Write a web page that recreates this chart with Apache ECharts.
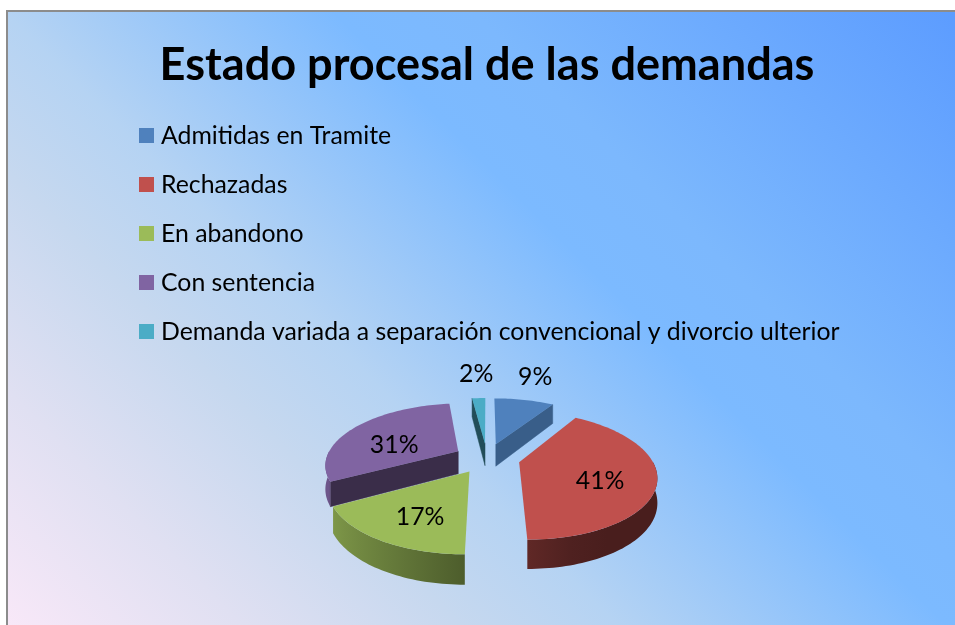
<!DOCTYPE html>
<html><head><meta charset="utf-8">
<script src="https://cdn.jsdelivr.net/npm/echarts@6/dist/echarts.min.js"></script>
<style>html,body{margin:0;padding:0;background:#fff}#c{width:955px;height:625px}</style>
</head><body><div id="c"></div>
<script>
// ---- data ----
const titleText = 'Estado procesal de las demandas';
const categories = [
  'Admitidas en Tramite',
  'Rechazadas',
  'En abandono',
  'Con sentencia',
  'Demanda variada a separación convencional y divorcio ulterior'
];
const values = [9, 41, 17, 31, 2];
const percentLabels = ['9%', '41%', '17%', '31%', '2%'];
const colors = ['#4f81bd', '#c0504d', '#9bbb59', '#8064a2', '#4bacc6'];

// ---- fonts sized to the reference widths ----
function fitSize(text, weight, target) {
  const c = document.createElement('canvas').getContext('2d');
  c.font = weight + ' 100px Lato';
  return 100 * target / c.measureText(text).width;
}
const titleSize = fitSize(titleText, 'bold', 655);
const legendSize = fitSize(categories[4], 'normal', 679);

// ---- 3D exploded pie geometry (layout only) ----
const G = { cx: 487, cy: 458, rx: 132, a: 60, p: 0.2, h: 23, e: 0.25 };
const total = values.reduce((s, v) => s + v, 0);
const starts = []; { let acc = 0; values.forEach(v => { starts.push(acc); acc += v; }); }
const D = Math.PI / 180;
function proj(u, w, down) {
  const f = 1 / (1 + G.p * w);
  return [G.cx + G.rx * u * f, G.cy - G.a * w * f + (down || 0) * f];
}
function shade(hex, k) {
  const n = parseInt(hex.slice(1), 16);
  const r = Math.min(255, Math.round(((n >> 16) & 255) * k));
  const g = Math.min(255, Math.round(((n >> 8) & 255) * k));
  const b = Math.min(255, Math.round((n & 255) * k));
  return 'rgb(' + r + ',' + g + ',' + b + ')';
}
function wallK(t) { return Math.max(0.38, Math.min(1, 0.5 + 0.35 * (-Math.sin(t)))); }

function renderSlice(i) {
  return function (params, api) {
    const v = api.value(0);
    const t0 = starts[i] / total * 2 * Math.PI;
    const t1 = (starts[i] + v) / total * 2 * Math.PI;
    const bis = (t0 + t1) / 2;
    const ou = G.e * Math.sin(bis), ow = G.e * Math.cos(bis);
    const pt = (r, t, down) => proj(ou + r * Math.sin(t), ow + r * Math.cos(t), down);
    const children = [];
    // radial cut faces
    const cut = (t, sign) => {
      const nx = sign * Math.cos(t), nz = -sign * Math.sin(t);
      if (nz >= -1e-9) return;
      const k = 0.45 + Math.max(0, nx - 0.5) * 0.8;
      children.push({
        type: 'polygon',
        shape: { points: [pt(0, t, 0), pt(1, t, 0), pt(1, t, G.h), pt(0, t, G.h)] },
        style: { fill: shade(colors[i], k), stroke: shade(colors[i], k), lineWidth: 0.5 }
      });
    };
    cut(t0, -1);
    cut(t1, 1);
    // outer wall (front half)
    const w0 = Math.max(t0, Math.PI / 2), w1 = Math.min(t1, 1.5 * Math.PI);
    if (w1 > w0) {
      const m = Math.max(2, Math.ceil((w1 - w0) / (D * 1.5)));
      const top = [], bot = [];
      for (let k = 0; k <= m; k++) {
        const t = w0 + (w1 - w0) * k / m;
        top.push(pt(1, t, 0)); bot.push(pt(1, t, G.h));
      }
      const x0 = top[0][0], xm = top[m][0];
      const stops = [];
      const S = 6;
      for (let s = 0; s <= S; s++) {
        const k = Math.round(m * s / S);
        const t = w0 + (w1 - w0) * k / m;
        const off = Math.abs(xm - x0) < 1e-6 ? s / S : (top[k][0] - x0) / (xm - x0);
        stops.push({ offset: Math.max(0, Math.min(1, off)), color: shade(colors[i], wallK(t)) });
      }
      stops.sort((a, b) => a.offset - b.offset);
      children.push({
        type: 'polygon',
        shape: { points: top.concat(bot.slice().reverse()) },
        style: { fill: new echarts.graphic.LinearGradient(x0, 0, xm, 0, stops, true) }
      });
    }
    // top face
    const n = Math.max(2, Math.ceil((t1 - t0) / (D * 1.5)));
    const face = [pt(0, t0, 0)];
    for (let k = 0; k <= n; k++) face.push(pt(1, t0 + (t1 - t0) * k / n, 0));
    children.push({ type: 'polygon', shape: { points: face }, style: { fill: colors[i] } });
    // label
    let lp;
    if (v / total >= 0.1) { lp = pt(0.6, bis, 0); lp = [lp[0], lp[1] + 8]; }
    else { lp = pt(1.5, bis, 0); lp = [lp[0], lp[1] - 6]; }
    children.push({
      type: 'text', x: lp[0], y: lp[1], z2: 100,
      style: {
        text: percentLabels[i], fill: '#000', align: 'center', verticalAlign: 'middle',
        fontFamily: 'Lato', fontSize: legendSize
      }
    });
    return { type: 'group', children: children };
  };
}

const series = categories.map((name, i) => {
  const bis = ((starts[i] + values[i] / 2) / total) * 2 * Math.PI;
  return {
    type: 'custom', name: name, coordinateSystem: 'none',
    data: [[values[i]]], renderItem: renderSlice(i),
    itemStyle: { color: colors[i] },
    z: 10 - Math.round(Math.cos(bis) * 5), silent: true
  };
});

const chart = echarts.init(document.getElementById('c'), null, { renderer: 'canvas' });
chart.setOption({
  animation: false,
  backgroundColor: '#ffffff',
  graphic: [{
    type: 'rect', z: -10, silent: true,
    shape: { x: 7, y: 11, width: 1000, height: 700 },
    style: {
      fill: new echarts.graphic.LinearGradient(7, 625, 790, -158, [
        { offset: 0, color: '#f8e8f8' },
        { offset: 0.15, color: '#e0e0f2' },
        { offset: 0.29, color: '#c6d8ef' },
        { offset: 0.39, color: '#b5d3f3' },
        { offset: 0.6, color: '#7cbaff' },
        { offset: 0.69, color: '#7cb8fd' },
        { offset: 1, color: '#5c9cff' }
      ], true),
      stroke: '#8c8c8c', lineWidth: 2
    }
  }],
  title: {
    text: titleText, left: 487, textAlign: 'center', top: 43, padding: 0,
    textStyle: { fontFamily: 'Lato', fontWeight: 'bold', fontSize: titleSize, color: '#000' }
  },
  legend: {
    orient: 'vertical', left: 139, top: 123, padding: 0,
    itemWidth: 15, itemHeight: 15, itemGap: 24, icon: 'rect',
    textStyle: { fontFamily: 'Lato', fontSize: legendSize, color: '#000', lineHeight: 24, padding: [0, 0, 0, 2] },
    data: categories.map((n, i) => ({ name: n, itemStyle: { color: colors[i] } }))
  },
  series: series
});
</script>
</body></html>
